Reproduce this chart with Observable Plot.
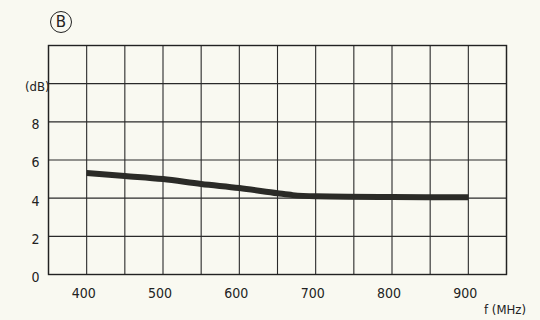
<!DOCTYPE html>
<html>
<head>
<meta charset="utf-8">
<script src="https://cdn.jsdelivr.net/npm/d3@7"></script>
<script src="https://cdn.jsdelivr.net/npm/@observablehq/plot@0.6"></script>
<style>
  html, body { margin: 0; padding: 0; background: #f9f9f1; }
  #wrap { position: relative; width: 540px; height: 320px; overflow: hidden; }
  .badge { position: absolute; left: 50px; top: 11px; width: 22px; height: 22px; border: 1.5px solid #222; border-radius: 50%;
           font: 15px "DejaVu Sans", sans-serif; color: #222; text-align: center; line-height: 20px; box-sizing: border-box; }
  .unit { position: absolute; left: 484px; top: 302px; font: 13px "DejaVu Sans Condensed", "DejaVu Sans", sans-serif; color: #222; }
</style>
</head>
<body>
<div id="wrap">
  <div class="badge">B</div>
  <div id="chart"></div>
  <div class="unit">f (MHz)</div>
</div>
<script>
const freq = [400, 450, 500, 550, 600, 650, 670, 700, 800, 900];
const gain = [5.32, 5.16, 5.0, 4.74, 4.53, 4.26, 4.16, 4.1, 4.06, 4.05];
const xTicks = [400, 500, 600, 700, 800, 900];
const yTicks = [0, 2, 4, 6, 8];
const yUnitLabel = "(dB)";
const yUnitPos = 10;

const data = freq.map((f, i) => ({f, g: gain[i]}));
const xGrid = d3.range(350, 951, 50);
const yGrid = d3.range(0, 12.1, 2);

const chart = Plot.plot({
  width: 540,
  height: 320,
  marginLeft: 48,
  marginRight: 34,
  marginTop: 45,
  marginBottom: 46,
  style: {background: "transparent", fontFamily: "'DejaVu Sans Condensed', 'DejaVu Sans', sans-serif", fontSize: "13px", color: "#222"},
  x: {domain: [350, 950]},
  y: {domain: [0, 12]},
  marks: [
    Plot.ruleX(xGrid, {stroke: "#2a2a2a", strokeWidth: 1.1, strokeOpacity: 1}),
    Plot.ruleY(yGrid, {stroke: "#2a2a2a", strokeWidth: 1.1, strokeOpacity: 1}),
    Plot.frame({stroke: "#222", strokeWidth: 1.4}),
    Plot.axisX(xTicks, {tickSize: 0, tickPadding: 14, label: null, dx: -3, fontSize: 14}),
    Plot.axisY(yTicks, {tickSize: 0, tickPadding: 9, label: null, dy: 3, fontSize: 14}),
    Plot.text([yUnitPos], {x: 350, y: (d) => d, text: () => yUnitLabel, textAnchor: "end", dx: 1, dy: 3, fontSize: 13, frameAnchor: "left"}),
    Plot.line(data, {x: "f", y: "g", stroke: "#2b2b27", strokeWidth: 6, curve: "monotone-x", strokeLinecap: "butt"})
  ]
});
document.getElementById("chart").appendChild(chart);
</script>
</body>
</html>
